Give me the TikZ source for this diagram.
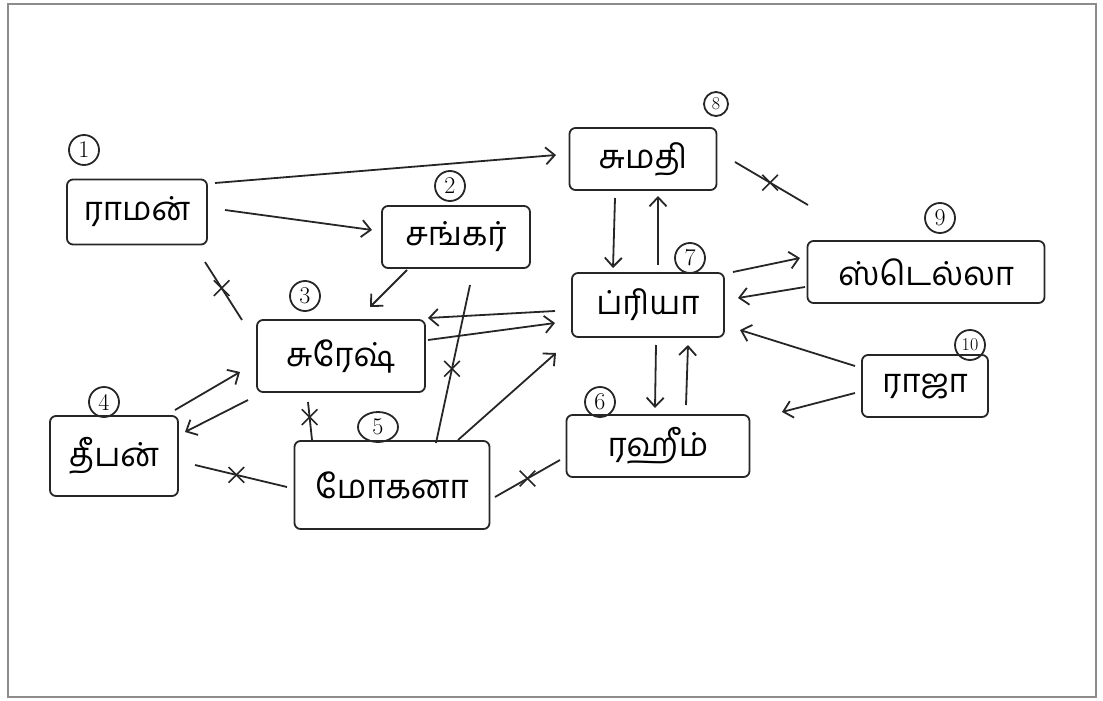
\documentclass[tikz,border=0pt]{standalone}
\usepackage{fontspec}
\newfontfamily\tamil[Script=Tamil]{Hind Madurai}
\usetikzlibrary{arrows.meta,calc,shapes.misc,shapes.geometric}
\begin{document}
\begin{tikzpicture}[x=1pt,y=-1pt,
  ink/.style={draw=black!85, line width=1.8pt},
  person/.style={ink, rounded corners=6pt, inner sep=0pt, font=\tamil\fontsize{33}{36}\selectfont},
  num/.style={ink, circle, inner sep=0pt, minimum size=30pt, font=\fontsize{24}{24}\selectfont},
  arr/.style={ink, -{Straight Barb[length=9pt,width=17pt,line width=1.8pt]}},
  link/.style={ink},
  xmark/.style={ink, cross out, minimum size=14pt, inner sep=0pt, line width=1.6pt}]
\useasboundingbox (0,0) rectangle (1103,701);
\draw[draw=black!45, line width=1.5pt] (8,4) rectangle (1096,697);
% people
\node[person, minimum width=140pt, minimum height=65pt] (n1) at (137,212) {ராமன்};
\node[person, minimum width=148pt, minimum height=62pt] (n2) at (456,237) {சங்கர்};
\node[person, minimum width=168pt, minimum height=72pt] (n3) at (341,356) {சுரேஷ்};
\node[person, minimum width=128pt, minimum height=80pt] (n4) at (114,456) {தீபன்};
\node[person, minimum width=195pt, minimum height=88pt] (n5) at (392,485) {மோகனா};
\node[person, minimum width=183pt, minimum height=62pt] (n6) at (658,446) {ரஹீம்};
\node[person, minimum width=152pt, minimum height=64pt] (n7) at (648,305) {ப்ரியா};
\node[person, minimum width=147pt, minimum height=62pt] (n8) at (643,159) {சுமதி};
\node[person, minimum width=237pt, minimum height=62pt] (n9) at (926,272) {ஸ்டெல்லா};
\node[person, minimum width=126pt, minimum height=62pt] (n10) at (925,386) {ராஜா};
% numbers
\node[num] (c1) at (84,150) {1};
\node[num] (c2) at (450,186) {2};
\node[num] (c3) at (305,296) {3};
\node[num] (c4) at (104,402) {4};
\node[num, ellipse, minimum width=40pt, minimum height=30pt] (c5) at (378,427) {5};
\node[num] (c6) at (600,402) {6};
\node[num] (c7) at (690,258) {7};
\node[num, minimum size=24pt, font=\fontsize{18}{18}\selectfont] (c8) at (716,104) {8};
\node[num] (c9) at (940,218) {9};
\node[num, font=\fontsize{18}{18}\selectfont] (c10) at (970,345) {10};
% connectors
\draw[arr] ($(n1)+(78,-29)$) -- ($(n8)+(-87,-4)$);
\draw[arr] ($(n1)+(88,-2)$) -- ($(n2)+(-84,-7)$);
\draw[link] ($(n1)+(68,50)$) -- node[xmark, pos=0.45] (x1) {} ($(n3)+(-99,-36)$);
\draw[arr] ($(n2)+(-49,33)$) -- ($(n3)+(29,-49)$);
\draw[link] ($(n2)+(14,48)$) -- node[xmark, pos=0.53] (x2) {} ($(n5)+(44,-42)$);
\draw[arr] ($(n7)+(-93,6)$) -- ($(n3)+(87,-38)$);
\draw[arr] ($(n3)+(87,-16)$) -- ($(n7)+(-93,18)$);
\draw[arr] ($(n4)+(61,-46)$) -- ($(n3)+(-101,16)$);
\draw[arr] ($(n3)+(-93,44)$) -- ($(n4)+(71,-24)$);
\draw[link] ($(n3)+(-33,46)$) -- node[xmark, pos=0.4] (x3) {} ($(n5)+(-80,-45)$);
\draw[link] ($(n4)+(81,9)$) -- node[xmark, pos=0.45] (x4) {} ($(n5)+(-105,2)$);
\draw[arr] ($(n5)+(66,-45)$) -- ($(n7)+(-92,48)$);
\draw[link] ($(n5)+(103,12)$) -- node[xmark, pos=0.5] (x5) {} ($(n6)+(-98,14)$);
\draw[arr] ($(n8)+(-28,39)$) -- ($(n7)+(-35,-37)$);
\draw[arr] ($(n7)+(10,-40)$) -- ($(n8)+(15,37)$);
\draw[arr] ($(n7)+(8,40)$) -- ($(n6)+(-3,-38)$);
\draw[arr] ($(n6)+(28,-41)$) -- ($(n7)+(40,40)$);
\draw[arr] ($(n7)+(85,-33)$) -- ($(n9)+(-126,-14)$);
\draw[arr] ($(n9)+(-121,15)$) -- ($(n7)+(90,-7)$);
\draw[link] ($(n8)+(92,3)$) -- node[xmark, pos=0.48] (x6) {} ($(n9)+(-118,-67)$);
\draw[arr] ($(n10)+(-70,-20)$) -- ($(n7)+(92,25)$);
\draw[arr] ($(n10)+(-70,7)$) -- ($(n6)+(124,-34)$);
\end{tikzpicture}
\end{document}
